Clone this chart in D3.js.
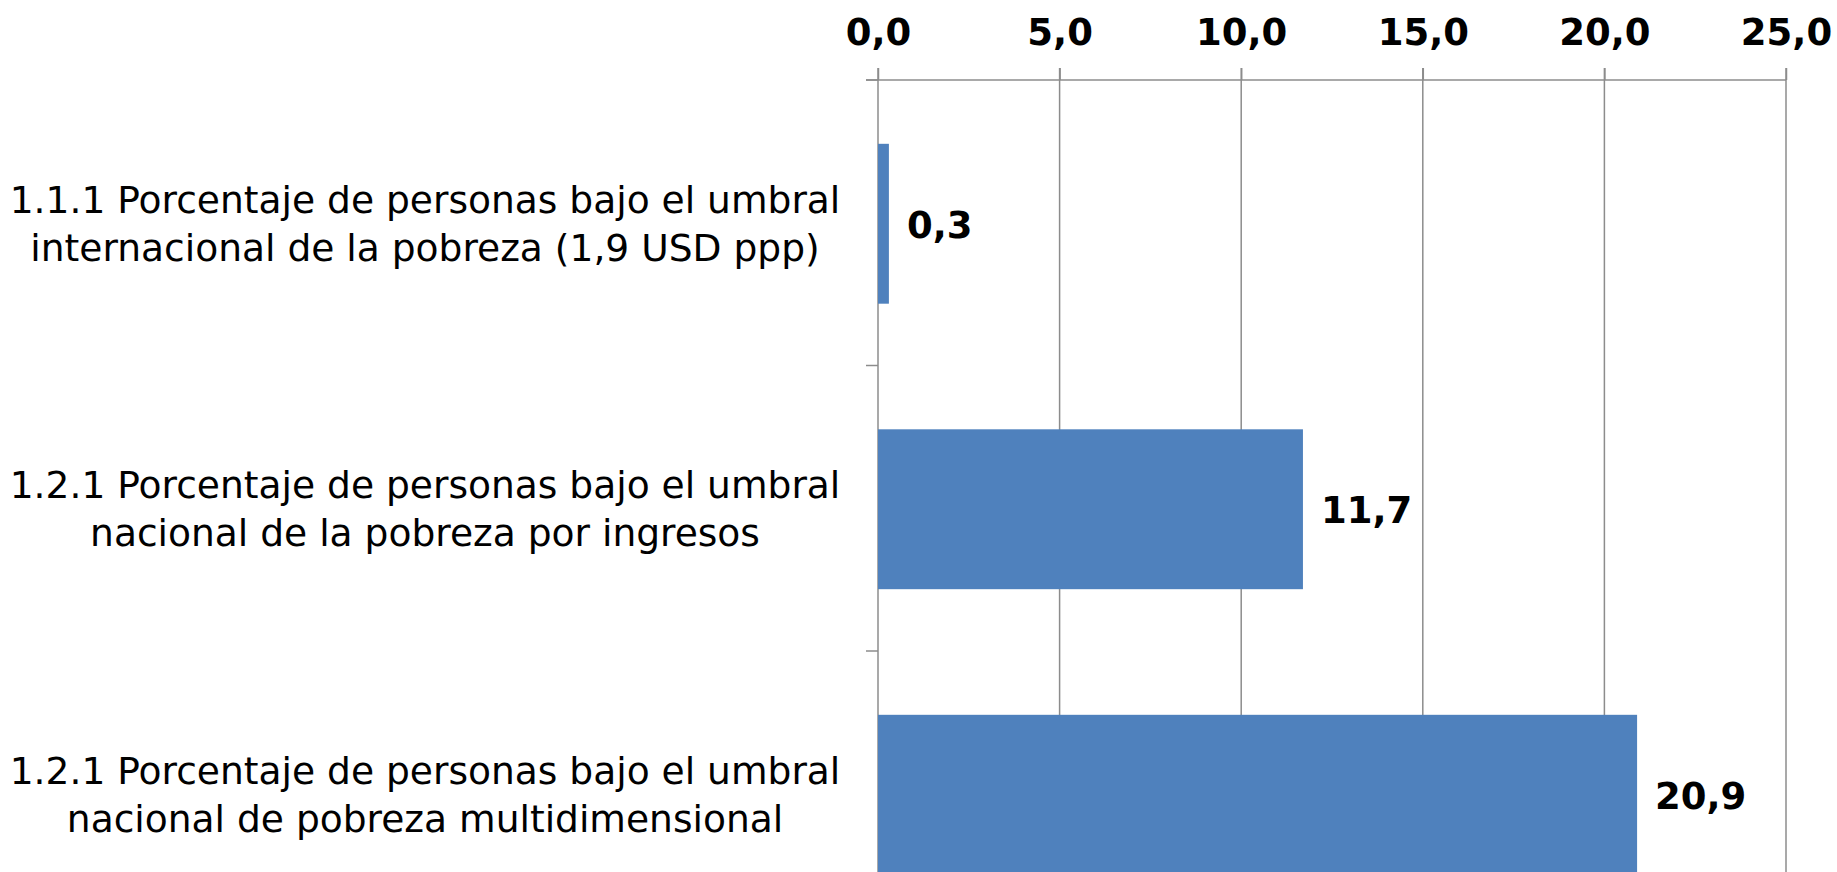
<!DOCTYPE html>
<html>
<head>
<meta charset="utf-8">
<script src="https://cdn.jsdelivr.net/npm/d3@7"></script>
<style>
  html, body { margin: 0; padding: 0; background: #fff; }
  svg { display: block; }
</style>
</head>
<body>
<div id="chart"></div>
<script>
// indicator labels, each split in two lines
const categories = [
  ["1.1.1 Porcentaje de personas bajo el umbral", "internacional de la pobreza (1,9 USD ppp)"],
  ["1.2.1 Porcentaje de personas bajo el umbral", "nacional de la pobreza por ingresos"],
  ["1.2.1 Porcentaje de personas bajo el umbral", "nacional de pobreza multidimensional"],
];
const values = [0.3, 11.7, 20.9];
const xTicks = [0, 5, 10, 15, 20, 25];

const svgWidth = 1837;
const svgHeight = 872;

const marginLeft = 878;
const marginRight = 51; // x = 25 lands at ~1786
const plotTop = 80;
const bandStep = 285.5; // chart continues below the visible window

const barColor = "#4f81bd";
const gridColor = "#8c8c8c";
const fontFamily = "'DejaVu Sans', Verdana, sans-serif";

// spanish style numbers: 0,3 / 11,7
const locale = d3.formatLocale({
  decimal: ",",
  thousands: ".",
  grouping: [3],
  currency: ["", " €"],
});
const fmt = locale.format(".1f");

const svg = d3
  .select("#chart")
  .append("svg")
  .attr("width", svgWidth)
  .attr("height", svgHeight)
  .style("background", "#fff");

const x = d3
  .scaleLinear()
  .domain([0, 25])
  .range([marginLeft, svgWidth - marginRight]);

const y = d3
  .scaleBand()
  .domain(d3.range(categories.length))
  .range([plotTop, plotTop + bandStep * categories.length])
  .paddingInner(0.44)
  .paddingOuter(0.22);

const plotBottom = plotTop + bandStep * categories.length;

// vertical gridlines (also the tick marks above the axis)
svg
  .append("g")
  .selectAll("line")
  .data(xTicks)
  .join("line")
  .attr("x1", (d) => x(d))
  .attr("x2", (d) => x(d))
  .attr("y1", plotTop - 12)
  .attr("y2", plotBottom)
  .attr("stroke", gridColor)
  .attr("stroke-width", 1.5);

// top axis
const xAxis = svg
  .append("g")
  .attr("transform", `translate(0, ${plotTop})`)
  .call(d3.axisTop(x).tickValues(xTicks).tickFormat(fmt).tickSize(12).tickPadding(23));

xAxis.select(".domain").attr("stroke", gridColor).attr("stroke-width", 1.5)
  .attr("d", `M${x(0) - 12},0H${x(25)}`);
xAxis.selectAll(".tick line").attr("stroke", gridColor).attr("stroke-width", 1.5);
xAxis
  .selectAll(".tick text")
  .attr("fill", "#000")
  .attr("font-family", fontFamily)
  .attr("font-weight", "bold")
  .attr("font-size", 37);

// category separators on the left of the value axis
const bandEdges = d3.range(categories.length + 1).map((i) => plotTop + i * bandStep);
svg
  .append("g")
  .selectAll("line")
  .data(bandEdges)
  .join("line")
  .attr("x1", x(0) - 12)
  .attr("x2", x(0))
  .attr("y1", (d) => d)
  .attr("y2", (d) => d)
  .attr("stroke", gridColor)
  .attr("stroke-width", 1.5);

// bars
svg
  .append("g")
  .selectAll("rect")
  .data(values)
  .join("rect")
  .attr("x", x(0))
  .attr("y", (d, i) => y(i) + 1)
  .attr("width", (d) => x(d) - x(0))
  .attr("height", y.bandwidth())
  .attr("fill", barColor);

// value labels
svg
  .append("g")
  .selectAll("text")
  .data(values)
  .join("text")
  .attr("x", (d) => x(d) + 18)
  .attr("y", (d, i) => y(i) + y.bandwidth() / 2 + 15)
  .attr("font-family", fontFamily)
  .attr("font-weight", "bold")
  .attr("font-size", 37)
  .attr("fill", "#000")
  .text((d) => fmt(d));

// category labels
svg
  .append("g")
  .attr("font-family", fontFamily)
  .attr("font-size", 37.6)
  .attr("fill", "#000")
  .attr("text-anchor", "middle")
  .selectAll("text")
  .data(categories)
  .join("text")
  .attr("transform", (d, i) => `translate(425, ${y(i) + y.bandwidth() / 2})`)
  .call((text) =>
    text
      .append("tspan")
      .attr("x", 0)
      .attr("y", -10)
      .text((d) => d[0])
  )
  .call((text) =>
    text
      .append("tspan")
      .attr("x", 0)
      .attr("y", 38)
      .text((d) => d[1])
  );
</script>
</body>
</html>
